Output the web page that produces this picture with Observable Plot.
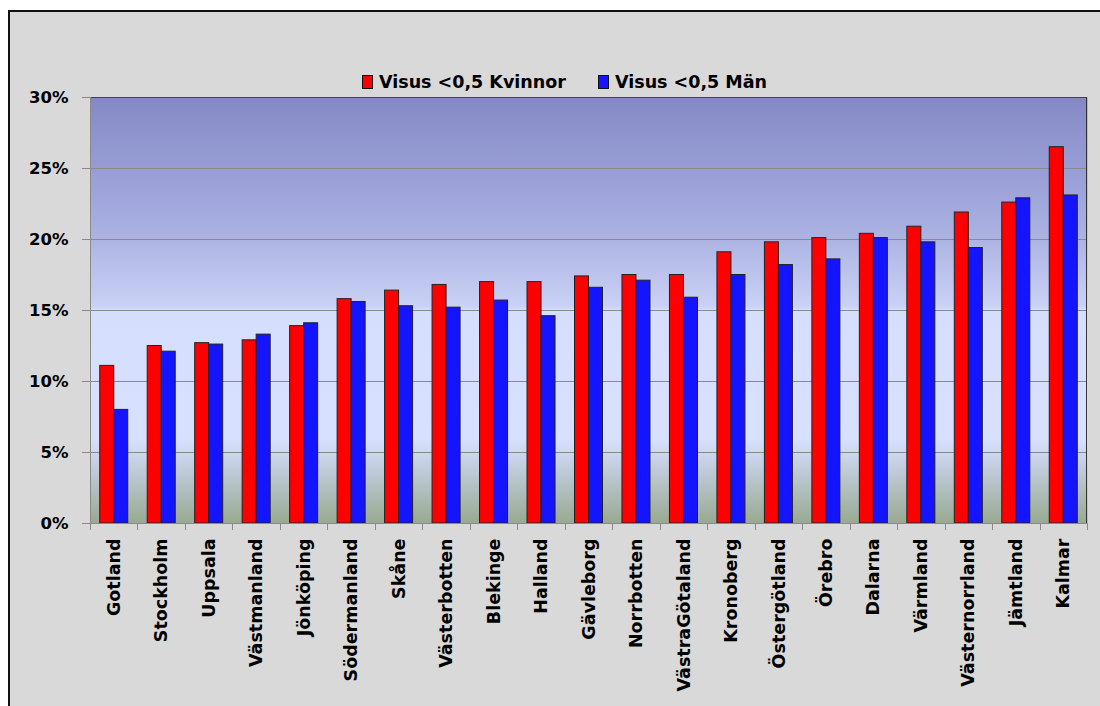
<!DOCTYPE html>
<html><head><meta charset="utf-8">
<script src="https://cdn.jsdelivr.net/npm/d3@7"></script>
<script src="https://cdn.jsdelivr.net/npm/@observablehq/plot@0.6"></script>
<style>
html,body{margin:0;padding:0;background:#fff;width:1100px;height:706px;overflow:hidden;}
#box{position:absolute;left:8px;top:10px;width:1090px;height:694px;overflow:hidden;background:#d9d9d9;border-left:2px solid #111;border-top:2px solid #111;font-family:"DejaVu Sans",sans-serif;font-weight:bold;color:#000;}
#legend{position:relative;height:80px;}
.item{position:absolute;top:60px;display:flex;align-items:center;font-size:17.5px;line-height:20px;white-space:nowrap;}
.sw{display:inline-block;width:9px;height:12px;border:1px solid #111;margin-right:6px;}
#chart svg{display:block;overflow:visible;}
</style></head>
<body>
<div id="box">
  <div id="legend">
    <div class="item" style="left:352px"><span class="sw" style="background:#ff0000"></span>Visus &lt;0,5 Kvinnor</div>
    <div class="item" style="left:588px"><span class="sw" style="background:#1414ff"></span>Visus &lt;0,5 Män</div>
  </div>
  <div id="chart"></div>
</div>
<script>
const regions = ["Gotland","Stockholm","Uppsala","Västmanland","Jönköping","Södermanland","Skåne","Västerbotten","Blekinge","Halland","Gävleborg","Norrbotten","VästraGötaland","Kronoberg","Östergötland","Örebro","Dalarna","Värmland","Västernorrland","Jämtland","Kalmar"];
const kvinnor = [11.1, 12.5, 12.7, 12.9, 13.9, 15.8, 16.4, 16.8, 17.0, 17.0, 17.4, 17.5, 17.5, 19.1, 19.8, 20.1, 20.4, 20.9, 21.9, 22.6, 26.5];
const man     = [8.0, 12.1, 12.6, 13.3, 14.1, 15.6, 15.3, 15.2, 15.7, 14.6, 16.6, 17.1, 15.9, 17.5, 18.2, 18.6, 20.1, 19.8, 19.4, 22.9, 23.1];
const yTicks = [0, 5, 10, 15, 20, 25, 30];

const data = regions.map((r, i) => ({region: r, kv: kvinnor[i], man: man[i]}));

const W = 1090, H = 614, ML = 80, MR = 13, MT = 5, MB = 183;

const defs = () => {
  const d = d3.create("svg:defs");
  const g = d.append("linearGradient").attr("id", "bg").attr("x1", 0).attr("y1", 0).attr("x2", 0).attr("y2", 1);
  [[0, "#8489c5"], [0.3, "#a7aee0"], [0.49, "#c9d1f5"], [0.5, "#d5dffd"], [0.8, "#d7e1ff"], [0.86, "#c4cfe2"], [1, "#98a990"]]
    .forEach(([o, c]) => g.append("stop").attr("offset", o).attr("stop-color", c));
  return d.node();
};

const decor = (index, scales, values, dim) => {
  const g = d3.create("svg:g");
  const x0 = ML, x1 = W - MR, y0 = MT, y1 = H - MB;
  const step = (x1 - x0) / regions.length;
  g.append("line").attr("x1", x0).attr("x2", x1).attr("y1", y0 + 0.5).attr("y2", y0 + 0.5).attr("stroke", "#444");
  g.append("line").attr("x1", x1 - 0.5).attr("x2", x1 - 0.5).attr("y1", y0).attr("y2", y1).attr("stroke", "#333");
  g.append("line").attr("x1", x0 + 0.5).attr("x2", x0 + 0.5).attr("y1", y0).attr("y2", y1).attr("stroke", "#8a8a8a");
  g.append("line").attr("x1", x0).attr("x2", x1).attr("y1", y1 + 0.5).attr("y2", y1 + 0.5).attr("stroke", "#8a8a8a");
  for (let k = 0; k <= regions.length; k++) {
    const xx = Math.round(x0 + k * step) + 0.5;
    g.append("line").attr("x1", xx).attr("x2", xx).attr("y1", y1).attr("y2", y1 + 7).attr("stroke", "#8a8a8a");
  }
  return g.node();
};

const chart = Plot.plot({
  width: W, height: H,
  marginLeft: ML, marginRight: MR, marginTop: MT, marginBottom: MB,
  style: {fontFamily: "DejaVu Sans, sans-serif", fontWeight: "bold", fontSize: "16px", background: "transparent", color: "#000"},
  x: {domain: regions, paddingInner: 0.41, paddingOuter: 0.205, round: false, label: null},
  y: {domain: [0, 30], label: null},
  marks: [
    defs,
    Plot.frame({fill: "url(#bg)", stroke: null}),
    Plot.gridY(yTicks.slice(1, -1), {stroke: "#8a8a8a", strokeOpacity: 1}),
    Plot.barY(data, {x: "region", y: "kv", fill: "#ff0000", stroke: "#222", strokeWidth: 1, insetRight: 14}),
    Plot.barY(data, {x: "region", y: "man", fill: "#1414ff", stroke: "#222", strokeWidth: 1, insetLeft: 14}),
    decor,
    Plot.axisY({ticks: yTicks, tickFormat: d => d + "%", tickSize: 8, tickPadding: 14, stroke: "#8a8a8a", fill: "#000", fontSize: 16.5}),
    Plot.axisX({tickRotate: -90, tickSize: 0, tickPadding: 15, fill: "#000", fontSize: 17.5})
  ]
});
document.getElementById("chart").appendChild(chart);
</script>
</body></html>
